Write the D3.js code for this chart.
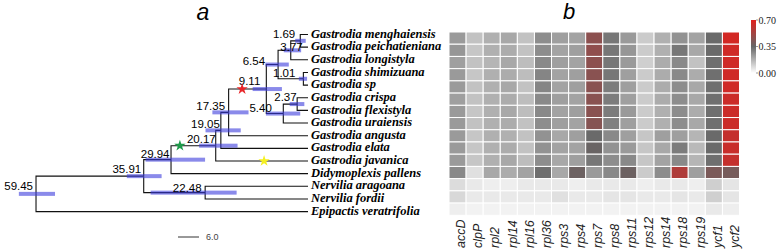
<!DOCTYPE html>
<html>
<head>
<meta charset="utf-8">
<script src="https://cdn.jsdelivr.net/npm/d3@7"></script>
<style>
  body { margin: 0; background: #fff; }
  svg { display: block; }
</style>
</head>
<body>
<svg class="chart"></svg>
<script>
const width = 777
const height = 251

// tips, top to bottom
const tips = [
  "Gastrodia menghaiensis", "Gastrodia peichatieniana", "Gastrodia longistyla",
  "Gastrodia shimizuana", "Gastrodia sp", "Gastrodia crispa", "Gastrodia flexistyla",
  "Gastrodia uraiensis", "Gastrodia angusta", "Gastrodia elata", "Gastrodia javanica",
  "Didymoplexis pallens", "Nervilia aragoana", "Nervilia fordii", "Epipactis veratrifolia"
]

// internal nodes: id, age, 95% HPD low, high, children (ids or tip names)
const clades = [
  ["n169", 1.69, 0.5, 2.8, ["Gastrodia menghaiensis", "Gastrodia peichatieniana"]],
  ["n377", 3.77, 1.5, 5.3, ["n169", "Gastrodia longistyla"]],
  ["n101", 1.01, 0.2, 2.0, ["Gastrodia shimizuana", "Gastrodia sp"]],
  ["n654", 6.54, 4.2, 9.3, ["n377", "n101"]],
  ["n237", 2.37, 0.8, 4.0, ["Gastrodia crispa", "Gastrodia flexistyla"]],
  ["n540", 5.40, 1.7, 9.2, ["n237", "Gastrodia uraiensis"]],
  ["n911", 9.11, 5.7, 12.1, ["n654", "n540"]],
  ["n1735", 17.35, 13.0, 20.9, ["n911", "Gastrodia angusta"]],
  ["n1905", 19.05, 14.7, 22.4, ["n1735", "Gastrodia elata"]],
  ["n2017", 20.17, 15.4, 23.8, ["n1905", "Gastrodia javanica"]],
  ["n2994", 29.94, 22.5, 35.5, ["n2017", "Didymoplexis pallens"]],
  ["n2248", 22.48, 15.6, 34.4, ["Nervilia aragoana", "Nervilia fordii"]],
  ["n3591", 35.91, 32.0, 39.6, ["n2994", "n2248"]],
  ["n5945", 59.45, 55.3, 63.2, ["n3591", "Epipactis veratrifolia"]]
]

// where each age label sits relative to its node (end of text, baseline)
const labelNudge = {
  n169: [-5, -2.5], n377: [12, 0.5], n101: [-8, -2], n654: [-13, 0.5],
  n237: [-0.5, -3.5], n540: [-11.5, -1.5], n911: [-6, -4], n1735: [-3.5, -2],
  n1905: [-1, -2], n2017: [0, -2.5], n2994: [-1.5, -2], n2248: [-3.5, -1],
  n3591: [-2.5, -3], n5945: [-3, -3.5]
}

// stars: on the branch leading to node, at given age
const stars = [
  { node: "n2017", age: 28.0, color: "#1e9a4a" },
  { node: "n911", age: 14.4, color: "#e8262a" },
  { node: "Gastrodia javanica", age: 9.6, color: "#f5f020" }
]

const genes = ["accD", "clpP", "rpl2", "rpl14", "rpl16", "rpl36", "rps3", "rps4", "rps7",
  "rps8", "rps11", "rps12", "rps14", "rps18", "rps19", "ycf1", "ycf2"]

// one row per tip, one value per gene
const heat = [
  [0.23, 0.14, 0.18, 0.20, 0.14, 0.26, 0.22, 0.21, 0.46, 0.31, 0.23, 0.12, 0.18, 0.25, 0.21, 0.34, 0.66],
  [0.24, 0.13, 0.18, 0.19, 0.14, 0.26, 0.21, 0.22, 0.47, 0.31, 0.24, 0.12, 0.18, 0.31, 0.20, 0.34, 0.65],
  [0.22, 0.14, 0.17, 0.20, 0.15, 0.27, 0.22, 0.21, 0.46, 0.31, 0.23, 0.11, 0.19, 0.27, 0.14, 0.33, 0.65],
  [0.23, 0.13, 0.18, 0.19, 0.15, 0.28, 0.21, 0.22, 0.45, 0.31, 0.22, 0.12, 0.19, 0.27, 0.19, 0.33, 0.65],
  [0.23, 0.14, 0.18, 0.20, 0.14, 0.28, 0.21, 0.22, 0.45, 0.30, 0.22, 0.12, 0.19, 0.26, 0.20, 0.33, 0.65],
  [0.22, 0.14, 0.18, 0.19, 0.15, 0.27, 0.22, 0.21, 0.45, 0.30, 0.22, 0.12, 0.19, 0.26, 0.20, 0.33, 0.64],
  [0.23, 0.13, 0.18, 0.20, 0.15, 0.27, 0.21, 0.22, 0.45, 0.30, 0.23, 0.12, 0.18, 0.26, 0.19, 0.33, 0.64],
  [0.23, 0.14, 0.18, 0.19, 0.14, 0.26, 0.22, 0.21, 0.44, 0.29, 0.22, 0.12, 0.18, 0.26, 0.20, 0.33, 0.64],
  [0.23, 0.13, 0.18, 0.18, 0.14, 0.25, 0.20, 0.22, 0.34, 0.27, 0.22, 0.13, 0.22, 0.22, 0.17, 0.34, 0.62],
  [0.23, 0.13, 0.18, 0.19, 0.14, 0.25, 0.21, 0.21, 0.36, 0.25, 0.23, 0.13, 0.20, 0.30, 0.16, 0.34, 0.63],
  [0.23, 0.13, 0.18, 0.20, 0.15, 0.26, 0.20, 0.22, 0.31, 0.26, 0.27, 0.13, 0.21, 0.27, 0.17, 0.33, 0.62],
  [0.27, 0.07, 0.20, 0.19, 0.21, 0.33, 0.20, 0.37, 0.23, 0.27, 0.37, 0.12, 0.26, 0.56, 0.22, 0.41, 0.40],
  [0.08, 0.05, 0.04, 0.04, 0.05, 0.05, 0.05, 0.04, 0.05, 0.05, 0.05, 0.04, 0.05, 0.05, 0.04, 0.11, 0.06],
  [0.09, 0.05, 0.05, 0.05, 0.05, 0.05, 0.07, 0.05, 0.05, 0.06, 0.06, 0.05, 0.05, 0.06, 0.05, 0.11, 0.06],
  [0.04, 0.03, 0.03, 0.03, 0.03, 0.03, 0.03, 0.03, 0.03, 0.03, 0.03, 0.03, 0.03, 0.03, 0.03, 0.05, 0.04]
]

const legendTicks = [0, 0.35, 0.70]

const svg = d3.select("svg.chart")
  .attr("width", width)
  .attr("height", height)
  .attr("viewBox", [0, 0, width, height])

svg.append("rect").attr("width", width).attr("height", height).attr("fill", "#fff")

// ---- tree
const ty = d3.scalePoint().domain(tips).range([34.5, 211.6])
const x = d3.scaleLinear().domain([0, 60]).range([308, 33.5])

const byId = new Map()
tips.forEach(t => byId.set(t, { id: t, age: 0, tip: true }))
clades.forEach(c => byId.set(c[0], { id: c[0], age: c[1], lo: c[2], hi: c[3], kids: c[4] }))

const build = id => {
  const n = byId.get(id)
  return n.tip ? { data: n } : { data: n, children: n.kids.map(build) }
}
const root = d3.hierarchy(build("n5945"), d => d.children).eachAfter(d => {
  const n = d.data.data
  d.px = x(n.age)
  d.py = n.tip ? ty(n.id) : d3.mean(d.children, c => c.py)
})

const tree = svg.append("g")

tree.append("g")
  .attr("fill", "none")
  .attr("stroke", "#111")
  .attr("stroke-width", 1.1)
  .selectAll("path")
  .data(root.links())
  .join("path")
  .attr("d", l => `M${l.source.px},${l.source.py}V${l.target.py}H${l.target.px}`)

const inner = root.descendants().filter(d => d.children)

tree.append("g")
  .attr("fill", "rgb(60,60,220)")
  .attr("fill-opacity", 0.6)
  .selectAll("rect")
  .data(inner)
  .join("rect")
  .attr("x", d => x(d.data.data.hi))
  .attr("width", d => x(d.data.data.lo) - x(d.data.data.hi))
  .attr("y", d => d.py - 2)
  .attr("height", 4)

tree.append("g")
  .attr("font-family", "Arial, 'Liberation Sans', sans-serif")
  .attr("font-size", 11.5)
  .attr("text-anchor", "end")
  .selectAll("text")
  .data(inner)
  .join("text")
  .attr("x", d => d.px + labelNudge[d.data.data.id][0])
  .attr("y", d => d.py + labelNudge[d.data.data.id][1])
  .text(d => d.data.data.age.toFixed(2))

tree.append("g")
  .attr("font-family", "'Liberation Serif', 'Times New Roman', serif")
  .attr("font-size", 12.5)
  .attr("font-style", "italic")
  .attr("font-weight", "bold")
  .selectAll("text")
  .data(root.leaves())
  .join("text")
  .attr("x", d => d.px + 3)
  .attr("y", d => d.py)
  .attr("dy", "0.25em")
  .text(d => d.data.data.id)

const nodeById = new Map(root.descendants().map(d => [d.data.data.id, d]))
tree.append("g")
  .selectAll("path")
  .data(stars)
  .join("path")
  .attr("d", d3.symbol(d3.symbolStar).size(40))
  .attr("transform", d => `translate(${x(d.age)},${nodeById.get(d.node).py})`)
  .attr("fill", d => d.color)

// scale bar
tree.append("line")
  .attr("x1", 178).attr("x2", 199).attr("y1", 237).attr("y2", 237)
  .attr("stroke", "#333").attr("stroke-width", 1)
tree.append("text")
  .attr("x", 206).attr("y", 240)
  .attr("font-family", "Arial, sans-serif").attr("font-size", 9).attr("fill", "#444")
  .text("6.0")

svg.append("text")
  .attr("x", 203).attr("y", 20)
  .attr("text-anchor", "middle")
  .attr("font-family", "Arial, 'Liberation Sans', sans-serif")
  .attr("font-style", "italic")
  .attr("font-size", 23)
  .text("a")

// ---- heatmap
const hy = d3.scaleBand().domain(tips).range([32, 215.3])
const hx = d3.scaleBand().domain(genes).range([449, 739.5])
const color = d3.scaleLinear().domain([0, 0.35, 0.70]).range(["#ffffff", "#666666", "#e0201c"])

const cells = []
tips.forEach((t, i) => genes.forEach((g, j) => cells.push({ t, g, v: heat[i][j] })))

svg.append("g")
  .selectAll("rect")
  .data(cells)
  .join("rect")
  .attr("x", d => hx(d.g))
  .attr("y", d => hy(d.t))
  .attr("width", hx.bandwidth())
  .attr("height", hy.bandwidth())
  .attr("fill", d => color(d.v))
  .attr("stroke", "#fff")
  .attr("stroke-width", 1)

svg.append("g")
  .attr("font-family", "Arial, 'Liberation Sans', sans-serif")
  .attr("font-size", 12.5)
  .attr("font-style", "italic")
  .attr("fill", "#222")
  .attr("text-anchor", "start")
  .selectAll("text")
  .data(genes)
  .join("text")
  .attr("transform", g => `translate(${hx(g) + hx.bandwidth() / 2},248) rotate(-90)`)
  .attr("dy", "0.62em")
  .text(g => g)

svg.append("text")
  .attr("x", 569).attr("y", 19)
  .attr("text-anchor", "middle")
  .attr("font-family", "Arial, 'Liberation Sans', sans-serif")
  .attr("font-style", "italic")
  .attr("font-size", 22)
  .text("b")

// ---- legend
const ly = d3.scaleLinear().domain([0, 0.70]).range([73, 20])
const grad = svg.append("defs").append("linearGradient")
  .attr("id", "lg").attr("x1", 0).attr("x2", 0).attr("y1", 1).attr("y2", 0)
d3.range(0, 1.0001, 0.1).forEach(t => {
  grad.append("stop").attr("offset", t).attr("stop-color", color(t * 0.70))
})
svg.append("rect")
  .attr("x", 751).attr("y", ly(0.70))
  .attr("width", 5).attr("height", ly(0) - ly(0.70))
  .attr("fill", "url(#lg)")

const lt = svg.append("g")
  .selectAll("g")
  .data(legendTicks)
  .join("g")
  .attr("transform", d => `translate(756,${ly(d)})`)
lt.append("line").attr("x2", 2).attr("stroke", "#555").attr("stroke-width", 0.6)
lt.append("text")
  .attr("x", 2.5).attr("dy", "0.35em")
  .attr("font-family", "'Liberation Serif', 'Times New Roman', serif")
  .attr("font-size", 10)
  .attr("fill", "#222")
  .attr("dx", 0)
  .text(d => d.toFixed(2))
</script>
</body>
</html>
